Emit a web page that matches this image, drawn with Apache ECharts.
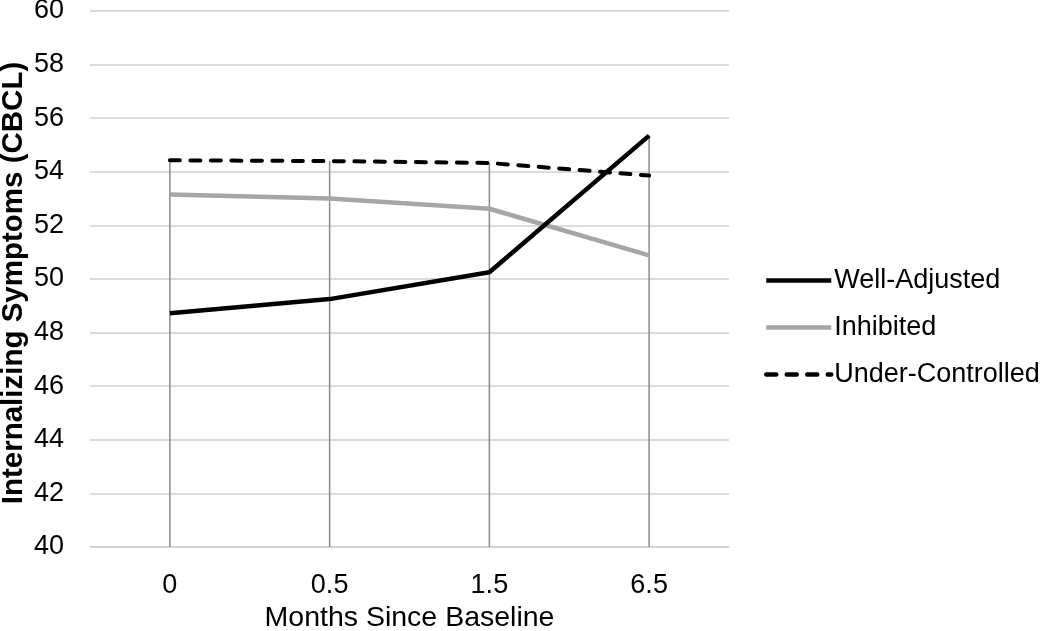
<!DOCTYPE html>
<html>
<head>
<meta charset="utf-8">
<script src="https://cdn.jsdelivr.net/npm/echarts@6/dist/echarts.min.js"></script>
<style>html,body{margin:0;padding:0;background:#fff;}#c{width:1050px;height:631px;}</style>
</head>
<body>
<div id="c"></div>
<script>
const categories = ['0', '0.5', '1.5', '6.5'];
const wellAdjusted = [48.72, 49.25, 50.25, 55.35];
const inhibited = [53.15, 53.0, 52.62, 50.88];
const underControlled = [54.43, 54.4, 54.33, 53.86];
const yTicks = { min: 40, max: 60, interval: 2 };
const yTitle = 'Internalizing Symptoms (CBCL)';

const dropData = categories.map((c, i) => [i, Math.max(wellAdjusted[i], inhibited[i], underControlled[i])]);

const FONT = '"Liberation Sans", Arial, sans-serif';
const chart = echarts.init(document.getElementById('c'), null, { renderer: 'canvas' });
chart.setOption({
  animation: false,
  backgroundColor: '#fff',
  textStyle: { fontFamily: FONT },
  grid: { left: 90, right: 321, top: 11, bottom: 84, containLabel: false, outerBoundsMode: 'none' },
  graphic: [{
    type: 'text', x: 14, y: 283, rotation: Math.PI / 2, silent: true,
    style: { text: yTitle, fontFamily: FONT, fontSize: 29.5, fontWeight: 'bold', fill: '#000',
      align: 'center', verticalAlign: 'middle' }
  }],
  legend: {
    orient: 'vertical', left: 764, top: 267, padding: 0,
    itemWidth: 65, itemHeight: 20, itemGap: 20,
    itemStyle: { opacity: 0 },
    lineStyle: { width: 4.5 },
    textStyle: { fontFamily: FONT, fontSize: 27, color: '#000', padding: [0, 0, 0, -2] },
    data: ['Well-Adjusted', 'Inhibited', 'Under-Controlled']
  },
  xAxis: {
    type: 'category', data: categories, boundaryGap: true,
    name: 'Months Since Baseline', nameLocation: 'middle', nameGap: 56,
    nameTextStyle: { fontFamily: FONT, fontSize: 28.5, color: '#000' },
    axisLine: { lineStyle: { color: '#d0d0d0', width: 1.5 } },
    axisTick: { show: false },
    axisLabel: { fontFamily: FONT, fontSize: 27, color: '#000', margin: 25 }
  },
  yAxis: {
    type: 'value', min: yTicks.min, max: yTicks.max, interval: yTicks.interval,
    axisLine: { show: false }, axisTick: { show: false },
    axisLabel: { fontFamily: FONT, fontSize: 27, color: '#000', margin: 26 },
    splitLine: { lineStyle: { color: '#d0d0d0', width: 1.5 } }
  },
  series: [
    {
      type: 'custom', name: 'drop', silent: true, z: 1,
      data: dropData,
      renderItem: function (params, api) {
        const top = api.coord([api.value(0), api.value(1)]);
        const bot = api.coord([api.value(0), yTicks.min]);
        return { type: 'line', shape: { x1: top[0], y1: top[1], x2: bot[0], y2: bot[1] },
          style: { stroke: '#8c8c8c', lineWidth: 1.5 } };
      }
    },
    { name: 'Well-Adjusted', type: 'line', data: wellAdjusted, symbol: 'none', z: 4,
      lineStyle: { color: '#000', width: 4.5 }, itemStyle: { color: '#000' } },
    { name: 'Inhibited', type: 'line', data: inhibited, symbol: 'none', z: 3,
      lineStyle: { color: '#a6a6a6', width: 4.5 }, itemStyle: { color: '#a6a6a6' } },
    { name: 'Under-Controlled', type: 'line', data: underControlled, symbol: 'none', z: 3,
      lineStyle: { color: '#000', width: 4, type: [10, 10.5], cap: 'round' }, itemStyle: { color: '#000' } }
  ]
});
</script>
</body>
</html>
